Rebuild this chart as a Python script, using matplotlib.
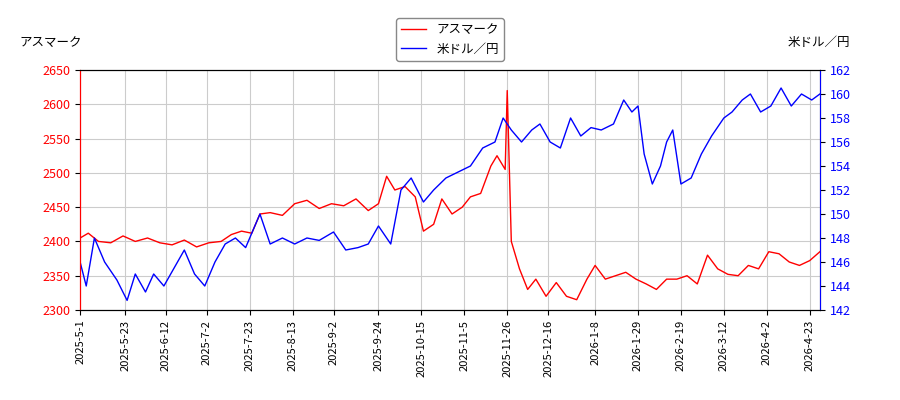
import matplotlib
matplotlib.use("Agg")
import matplotlib.pyplot as plt
import pandas as pd

plt.rcParams['font.family'] = ['Noto Sans CJK JP', 'DejaVu Sans']

tick_labels = ["2025-5-1","2025-5-23","2025-6-12","2025-7-2","2025-7-23","2025-8-13","2025-9-2","2025-9-24","2025-10-15","2025-11-5","2025-11-26","2025-12-16","2026-1-8","2026-1-29","2026-2-19","2026-3-12","2026-4-2","2026-4-23"]

red_dates = ["2025-05-01","2025-05-05","2025-05-10","2025-05-16","2025-05-22","2025-05-28","2025-06-03","2025-06-09","2025-06-15","2025-06-21","2025-06-27","2025-07-03","2025-07-09","2025-07-14","2025-07-19","2025-07-24","2025-07-28","2025-08-02","2025-08-08","2025-08-14","2025-08-20","2025-08-26","2025-09-01","2025-09-07","2025-09-13","2025-09-19","2025-09-24","2025-09-28","2025-10-02","2025-10-07","2025-10-12","2025-10-16","2025-10-21","2025-10-25","2025-10-30","2025-11-04","2025-11-08","2025-11-13","2025-11-18","2025-11-21","2025-11-25","2025-11-26","2025-11-28","2025-12-02","2025-12-06","2025-12-10","2025-12-15","2025-12-20","2025-12-25","2025-12-30","2026-01-04","2026-01-08","2026-01-13","2026-01-18","2026-01-23","2026-01-28","2026-02-02","2026-02-07","2026-02-12","2026-02-17","2026-02-22","2026-02-27","2026-03-04","2026-03-09","2026-03-14","2026-03-19","2026-03-24","2026-03-29","2026-04-03","2026-04-08","2026-04-13","2026-04-18","2026-04-23","2026-04-28"]
red_vals = [2405,2412,2400,2398,2408,2400,2405,2398,2395,2402,2392,2398,2400,2410,2415,2412,2440,2442,2438,2455,2460,2448,2455,2452,2462,2445,2455,2495,2475,2480,2465,2415,2425,2462,2440,2450,2465,2470,2510,2525,2505,2620,2400,2360,2330,2345,2320,2340,2320,2315,2345,2365,2345,2350,2355,2345,2338,2330,2345,2345,2350,2338,2380,2360,2352,2350,2365,2360,2385,2382,2370,2365,2372,2385]

blue_dates = ["2025-05-01","2025-05-04","2025-05-08","2025-05-13","2025-05-19","2025-05-24","2025-05-28","2025-06-02","2025-06-06","2025-06-11","2025-06-16","2025-06-21","2025-06-26","2025-07-01","2025-07-06","2025-07-11","2025-07-16","2025-07-21","2025-07-28","2025-08-02","2025-08-08","2025-08-14","2025-08-20","2025-08-26","2025-09-02","2025-09-08","2025-09-14","2025-09-19","2025-09-24","2025-09-30","2025-10-05","2025-10-10","2025-10-16","2025-10-21","2025-10-27","2025-11-02","2025-11-08","2025-11-14","2025-11-20","2025-11-24","2025-11-28","2025-12-03","2025-12-08","2025-12-12","2025-12-17","2025-12-22","2025-12-27","2026-01-01","2026-01-06","2026-01-11","2026-01-17","2026-01-22","2026-01-26","2026-01-29","2026-02-01","2026-02-05","2026-02-09","2026-02-12","2026-02-15","2026-02-19","2026-02-24","2026-03-01","2026-03-06","2026-03-12","2026-03-16","2026-03-21","2026-03-25","2026-03-30","2026-04-04","2026-04-09","2026-04-14","2026-04-19","2026-04-24","2026-04-28"]
blue_vals = [146,144,148,146,144.5,142.8,145,143.5,145,144,145.5,147,145,144,146,147.5,148,147.2,150,147.5,148,147.5,148,147.8,148.5,147,147.2,147.5,149,147.5,152,153,151,152,153,153.5,154,155.5,156,158,157,156,157,157.5,156,155.5,158,156.5,157.2,157,157.5,159.5,158.5,159,155,152.5,154,156,157,152.5,153,155,156.5,158,158.5,159.5,160,158.5,159,160.5,159,160,159.5,160]

rd = pd.to_datetime(red_dates)
bd = pd.to_datetime(blue_dates)

fig = plt.figure(figsize=(9, 4), dpi=100)
ax = fig.add_axes([0.089, 0.225, 0.822, 0.60])
ax2 = ax.twinx()
l1, = ax.plot(rd, red_vals, color='red', lw=1, label='アスマーク')
l2, = ax2.plot(bd, blue_vals, color='blue', lw=1, label='米ドル／円')

ax.set_ylim(2300, 2650)
ax2.set_ylim(142, 162)
ax2.set_yticks(range(142, 163, 2))
ax.set_xlim(pd.Timestamp("2025-05-01"), pd.Timestamp("2026-04-28"))
ax.set_xticks(pd.to_datetime(tick_labels))
ax.set_xticklabels(tick_labels, rotation=90, fontsize=8)
ax.tick_params(axis='y', labelsize=9)
ax2.tick_params(axis='y', labelsize=9)
ax.grid(True, color='#cccccc', lw=0.8)
for lab in ax.get_yticklabels():
    lab.set_color('red')
for lab in ax2.get_yticklabels():
    lab.set_color('blue')
ax.spines['left'].set_color('red')
ax2.spines['left'].set_color('red')
ax2.spines['right'].set_color('blue')

fig.text(0.022, 0.885, 'アスマーク', fontsize=9)
fig.text(0.945, 0.885, '米ドル／円', fontsize=9, ha='right')
fig.legend(handles=[l1, l2], loc='upper center', bbox_to_anchor=(0.5, 0.97), fontsize=9, framealpha=1, edgecolor='#888888')
fig.savefig("out.png")
